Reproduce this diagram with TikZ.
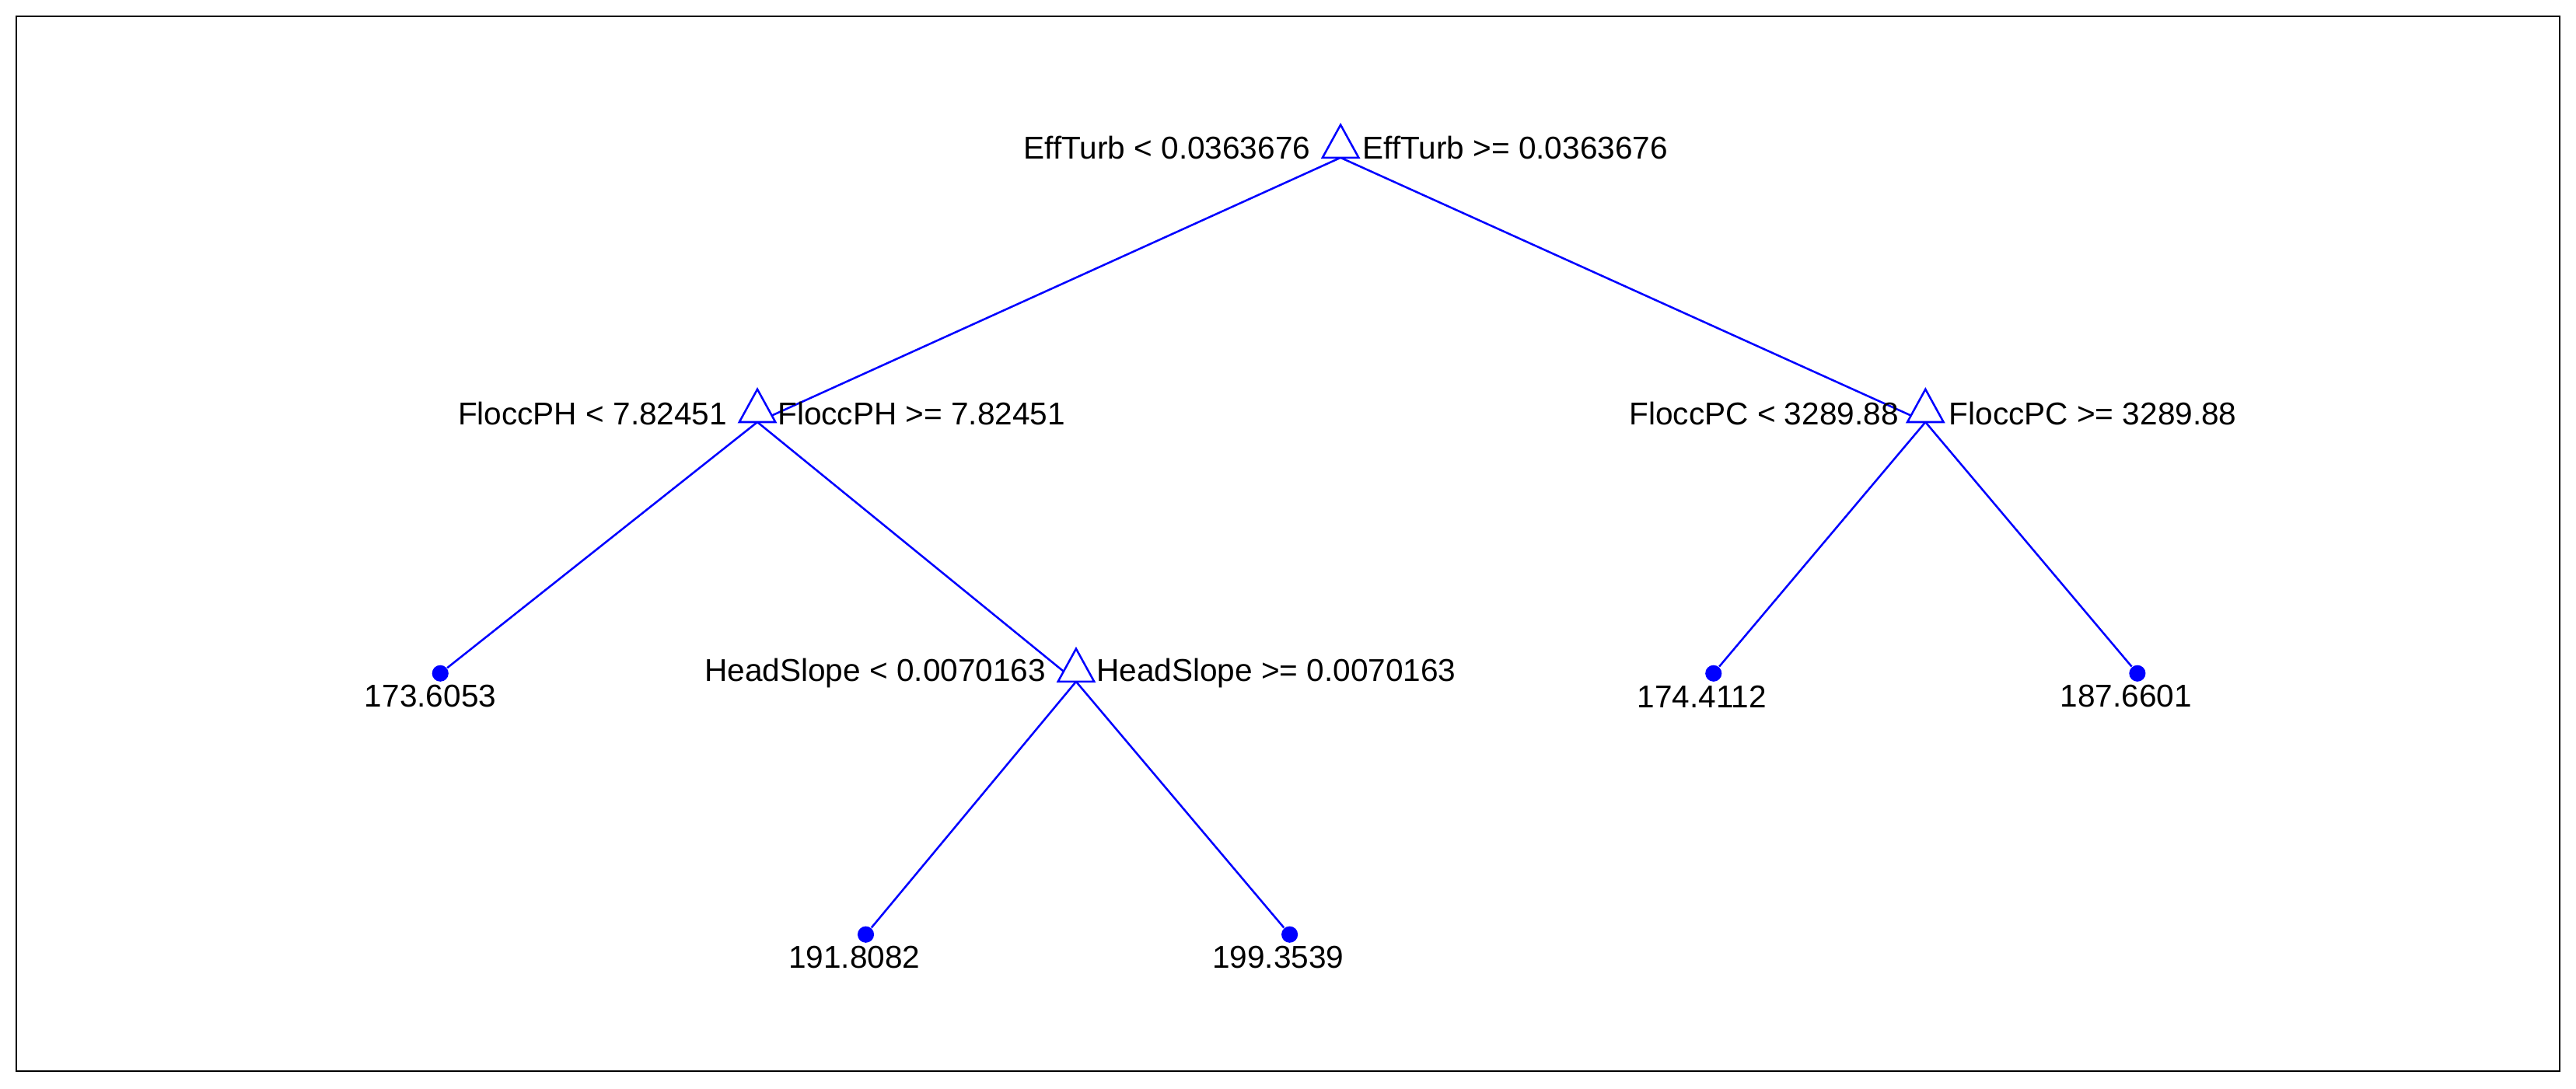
\documentclass[tikz,border=0pt]{standalone}
\usepackage{fontspec}
\setmainfont{Liberation Sans}
\definecolor{tb}{RGB}{0,0,255}
\begin{document}
\begin{tikzpicture}[x=0.5pt,y=-0.5pt,
  edge/.style={draw=tb,line width=0.6pt},
  tri/.style={draw=tb,line width=0.6pt,fill=white},
  leaf/.style={circle,fill=tb,inner sep=0pt,minimum size=5pt},
  lab/.style={font=\fontsize{9.6}{11}\selectfont,inner sep=0pt}]
\useasboundingbox (0,0) rectangle (1568,663);
\fill[white] (0,0) rectangle (1568,663);
\draw[line width=0.5pt] (10,10) rectangle (1558,652);
% split coordinates (base centre of triangles)
\coordinate (r) at (816,96);
\coordinate (ph) at (461,257);
\coordinate (pc) at (1172,257);
\coordinate (hs) at (655,415);
\node[leaf] (l1) at (268,410) {};
\node[leaf] (l2) at (527,569) {};
\node[leaf] (l3) at (785,569) {};
\node[leaf] (l4) at (1043,410) {};
\node[leaf] (l5) at (1301,410) {};
\draw[edge] (r) -- (ph);
\draw[edge] (r) -- (pc);
\draw[edge] (ph) -- (l1);
\draw[edge] (ph) -- (hs);
\draw[edge] (hs) -- (l2);
\draw[edge] (hs) -- (l3);
\draw[edge] (pc) -- (l4);
\draw[edge] (pc) -- (l5);
\foreach \c in {r,ph,pc,hs}{
  \draw[tri] ([shift={(-11,0)}]\c) -- ([shift={(0,-20)}]\c) -- ([shift={(11,0)}]\c) -- cycle;
}
\node[lab,anchor=east] (t1) at (798,90) {EffTurb < 0.0363676};
\node[lab,anchor=west] (t2) at (829,90) {EffTurb >= 0.0363676};
\node[lab,anchor=east] (t3) at (443,252) {FloccPH < 7.82451};
\node[lab,anchor=west] (t4) at (473,252) {FloccPH >= 7.82451};
\node[lab,anchor=east] (t5) at (1156,252) {FloccPC < 3289.88};
\node[lab,anchor=west] (t6) at (1186,252) {FloccPC >= 3289.88};
\node[lab,anchor=east] (t7) at (637,410) {HeadSlope < 0.0070163};
\node[lab,anchor=west] (t8) at (667,410) {HeadSlope >= 0.0070163};
\node[lab] (v1) at (262,424) {173.6053};
\node[lab] (v2) at (520,583) {191.8082};
\node[lab] (v3) at (778,583) {199.3539};
\node[lab] (v4) at (1036,424) {174.4112};
\node[lab] (v5) at (1294,424) {187.6601};
\end{tikzpicture}
\end{document}
